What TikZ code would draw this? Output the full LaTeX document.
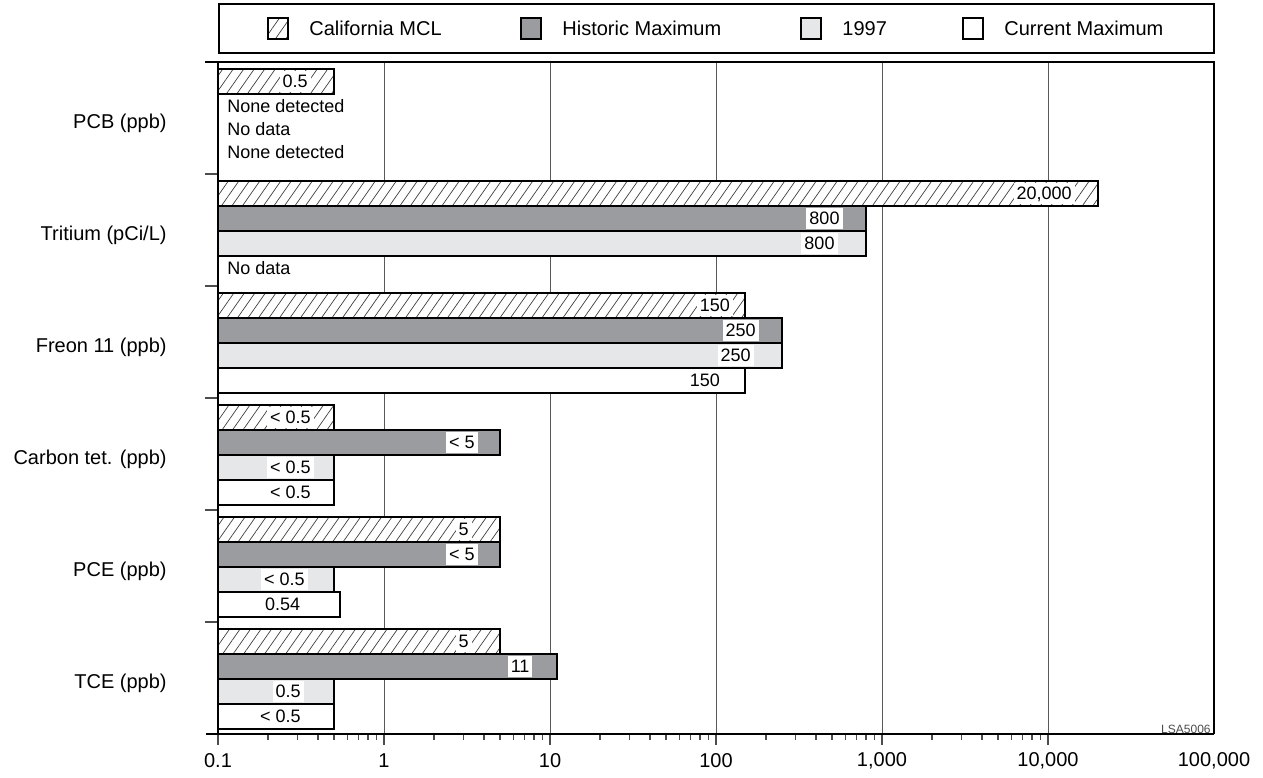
\documentclass[tikz,border=0pt]{standalone}
\usepackage{fontspec}
\setmainfont{Liberation Sans}
\usetikzlibrary{patterns.meta}
\definecolor{histgray}{RGB}{155,156,160}
\definecolor{yeargray}{RGB}{230,231,232}

\begin{document}
\begin{tikzpicture}[x=0.5pt, y=-0.5pt,
    declare function={lx(\v)=218+166*(log10(\v)+1);},
    bar/.style={draw=black, line width=1pt},
    mclbar/.style={bar, preaction={fill=white}, pattern={Lines[angle=55,distance=4.3pt,line width=0.35pt]}, pattern color=black!75},
    histbar/.style={bar, fill=histgray},
    yearbar/.style={bar, fill=yeargray},
    curbar/.style={bar, fill=white},
    val/.style={anchor=east, fill=white, font=\fontsize{9}{10}\selectfont, inner xsep=1.5pt, inner ysep=1.6pt, text height=6.6pt, text depth=0.4pt},
    note/.style={anchor=west, font=\fontsize{9}{10}\selectfont, inner sep=0pt},
    catlabel/.style={anchor=east, font=\fontsize{10}{12}\selectfont, inner sep=0pt},
    ticklabel/.style={font=\fontsize{10}{12}\selectfont, inner sep=0pt},
    legtext/.style={anchor=west, font=\fontsize{10}{12}\selectfont, inner sep=0pt},
    grid line/.style={draw=black!65, line width=0.5pt},
    frame/.style={draw=black, line width=1.2pt},
    tickmark/.style={draw=black!70, line width=0.6pt}]
  \useasboundingbox (0,0) rectangle (1263,777);

  % legend
  \draw[line width=0.8pt] (219,4) rectangle (1214,53);
  \draw[mclbar, line width=0.8pt] (268,18) rectangle (288,39);
  \node[legtext] (legmcl) at (309,28.5) {California MCL};
  \draw[histbar, line width=0.8pt] (521,18) rectangle (541,39);
  \node[legtext] (leghist) at (562,28.5) {Historic Maximum};
  \draw[yearbar, line width=0.8pt] (801,18) rectangle (821,39);
  \node[legtext] (legyear) at (842,28.5) {1997};
  \draw[curbar, line width=0.8pt] (963,18) rectangle (983,39);
  \node[legtext] (legcur) at (1004,28.5) {Current Maximum};

  % grid
  \foreach \d in {1,...,5}
    \draw[grid line] ({218+166*\d},62) -- ({218+166*\d},734);

  % PCB
  \draw[mclbar] (218,69) rectangle ({lx(0.5)},94);
  \node[val] (pcbmcl) at ({lx(0.5)-23},81.5) {0.5};
  \node[note] (pcbhist) at (227,106) {None detected};
  \node[note] (pcbyear) at (227,129) {No data};
  \node[note] (pcbcur) at (227,152) {None detected};

  % Tritium (20,000 = 2 x 10^4)
  \draw[mclbar] (218,181) rectangle ({lx(2)+664},206);
  \node[val] (trimcl) at ({lx(2)+664-23},193.5) {20,000};
  \draw[histbar] (218,206) rectangle ({lx(800)},231);
  \node[val] (trihist) at ({lx(800)-23},218.5) {800};
  \draw[yearbar] (218,231) rectangle ({lx(800)},256);
  \node[val] (triyear) at ({lx(800)-28},243.5) {800};
  \node[note] (tricur) at (227,268) {No data};

  % Freon 11
  \draw[mclbar] (218,293) rectangle ({lx(150)},318);
  \node[val] (fremcl) at ({lx(150)-12},305.5) {150};
  \draw[histbar] (218,318) rectangle ({lx(250)},343);
  \node[val] (frehist) at ({lx(250)-23},330.5) {250};
  \draw[yearbar] (218,343) rectangle ({lx(250)},368);
  \node[val] (freyear) at ({lx(250)-28},355.5) {250};
  \draw[curbar] (218,368) rectangle ({lx(150)},393);
  \node[val] (frecur) at ({lx(150)-22},380.5) {150};

  % Carbon tet.
  \draw[mclbar] (218,405) rectangle ({lx(0.5)},430);
  \node[val] (ctmcl) at ({lx(0.5)-20},417.5) {< 0.5};
  \draw[histbar] (218,430) rectangle ({lx(5)},455);
  \node[val] (cthist) at ({lx(5)-22},442.5) {< 5};
  \draw[yearbar] (218,455) rectangle ({lx(0.5)},480);
  \node[val] (ctyear) at ({lx(0.5)-20},467.5) {< 0.5};
  \draw[curbar] (218,480) rectangle ({lx(0.5)},505);
  \node[val] (ctcur) at ({lx(0.5)-20},492.5) {< 0.5};

  % PCE
  \draw[mclbar] (218,517) rectangle ({lx(5)},542);
  \node[val] (pcemcl) at ({lx(5)-28},529.5) {5};
  \draw[histbar] (218,542) rectangle ({lx(5)},567);
  \node[val] (pcehist) at ({lx(5)-22},554.5) {< 5};
  \draw[yearbar] (218,567) rectangle ({lx(0.5)},592);
  \node[val] (pceyear) at ({lx(0.5)-26},579.5) {< 0.5};
  \draw[curbar] (218,592) rectangle ({lx(0.54)},617);
  \node[val] (pcecur) at ({lx(0.54)-36},604.5) {0.54};

  % TCE
  \draw[mclbar] (218,629) rectangle ({lx(5)},654);
  \node[val] (tcemcl) at ({lx(5)-28},641.5) {5};
  \draw[histbar] (218,654) rectangle ({lx(11)},679);
  \node[val] (tcehist) at ({lx(11)-24},666.5) {11};
  \draw[yearbar] (218,679) rectangle ({lx(0.5)},704);
  \node[val] (tceyear) at ({lx(0.5)-30},691.5) {0.5};
  \draw[curbar] (218,704) rectangle ({lx(0.5)},729);
  \node[val] (tcecur) at ({lx(0.5)-30},716.5) {< 0.5};

  % axes
  \foreach \g in {174,286,398,510,622}
    \draw[tickmark] (205,\g) -- (218,\g);
  \foreach \d in {0,...,4}
    \foreach \m in {2,...,9}
      \draw[tickmark] ({218+166*(\d+log10(\m))},734) -- ++(0,6);
  \foreach \d in {0,...,5}
    \draw[tickmark] ({218+166*\d},734) -- ++(0,11);
  \draw[frame] (205,62) -- (1214,62) -- (1214,734);
  \draw[frame] (218,62) -- (218,734);
  \draw[frame] (206,734) -- (1214,734);

  % category labels
  \node[catlabel] (pcb) at (167,123) {PCB (ppb)};
  \node[catlabel] (tri) at (167,235) {Tritium (pCi/L)};
  \node[catlabel] (fre) at (167,347) {Freon 11 (ppb)};
  \node[catlabel] (ct) at (167,459) {Carbon tet. (ppb)};
  \node[catlabel] (pce) at (167,571) {PCE (ppb)};
  \node[catlabel] (tce) at (167,683) {TCE (ppb)};

  % tick labels
  \node[ticklabel] (x0) at (218,761) {0.1};
  \node[ticklabel] (x1) at (384,761) {1};
  \node[ticklabel] (x2) at (550,761) {10};
  \node[ticklabel] (x3) at (716,761) {100};
  \node[ticklabel] (x4) at (882,761) {1,000};
  \node[ticklabel] (x5) at (1048,761) {10,000};
  \node[ticklabel] (x6) at (1214,761) {100,000};

  \node[anchor=base east, inner sep=0pt, text=black!70, font=\fontsize{6}{7}\selectfont] (code) at (1211,733) {LSA5006};
\end{tikzpicture}
\end{document}
